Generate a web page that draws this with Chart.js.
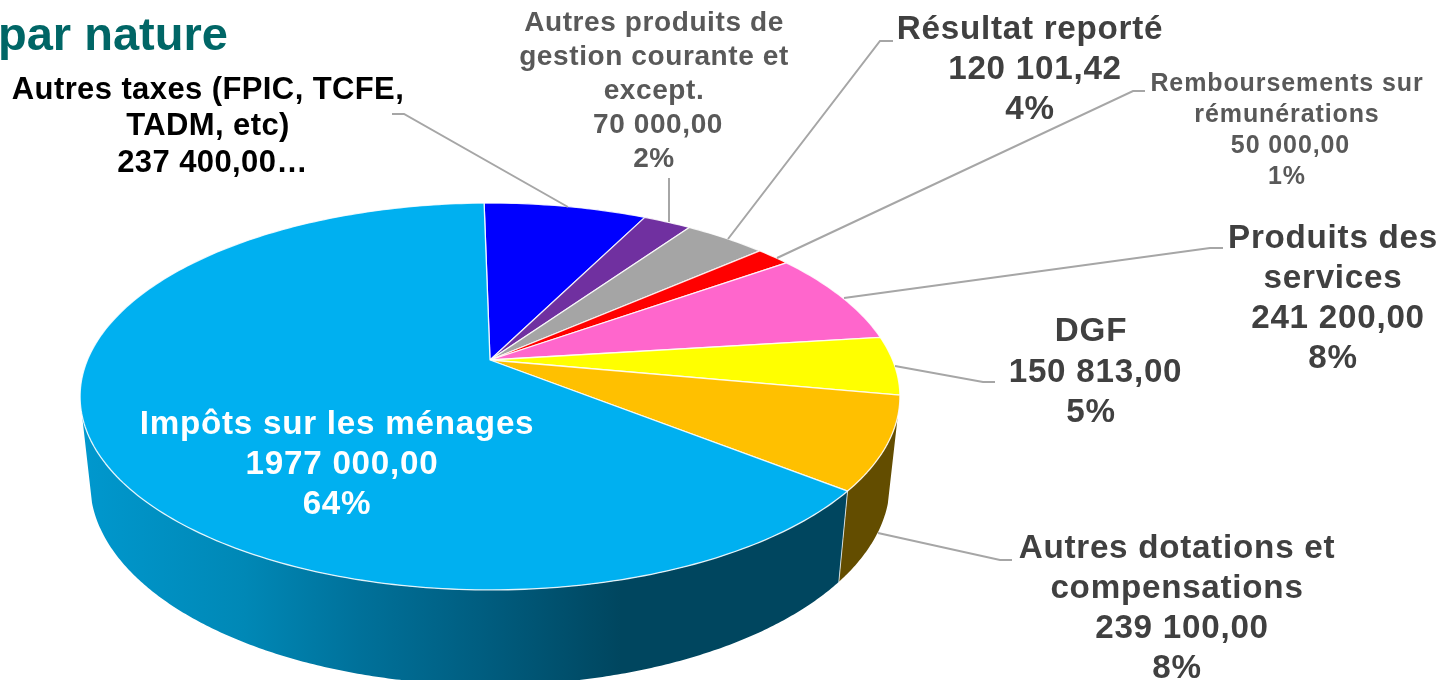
<!DOCTYPE html>
<html><head><meta charset="utf-8">
<style>html,body{margin:0;padding:0;background:#fff;overflow:hidden}canvas{display:block}</style>
<script src="https://cdn.jsdelivr.net/npm/chart.js@4"></script>
</head><body><canvas id="c" width="1454" height="680"></canvas>
<script>
const categories = ["Autres taxes (FPIC, TCFE, TADM, etc)","Autres produits de gestion courante et except.","Résultat reporté","Remboursements sur rémunérations","Produits des services","DGF","Autres dotations et compensations","Impôts sur les ménages"];
const values = [237400,70000,120101.42,50000,241200,150813,239100,1977000];
const sliceColors = ["#0000FF","#7030A0","#A5A5A5","#FF0000","#FF66CC","#FFFF00","#FFC000","#00B0F0"];

const titleText = "par nature";
const labelLines = [
 ["Autres taxes (FPIC, TCFE,","TADM, etc)","237 400,00…"],
 ["Autres produits de","gestion courante et","except.","70 000,00","2%"],
 ["Résultat reporté","120 101,42","4%"],
 ["Remboursements sur","rémunérations","50 000,00","1%"],
 ["Produits des","services","241 200,00","8%"],
 ["DGF","150 813,00","5%"],
 ["Autres dotations et","compensations","239 100,00","8%"],
 ["Impôts sur les ménages","1977 000,00","64%"]
];
// label placement: centre x, first line centre y, line step, font size, letter spacing, colour,
// plus the line that holds the amount and how far that line sits from the block's centre
const labelStyle = [
 {x:208,y:90,step:36.5,size:31,ls:0.4,color:"#000000",amountLine:2,amountDx:4.5},
 {x:654,y:23,step:34,size:28,ls:0.6,color:"#595959",amountLine:3,amountDx:4},
 {x:1030,y:30,step:40,size:33.2,ls:0.75,color:"#404040",amountLine:1,amountDx:5},
 {x:1287,y:84,step:31,size:25,ls:0.9,color:"#595959",amountLine:2,amountDx:3.5},
 {x:1333,y:239,step:40,size:33.2,ls:0.75,color:"#404040",amountLine:2,amountDx:5},
 {x:1091,y:332,step:40.5,size:33.2,ls:0.75,color:"#404040",amountLine:1,amountDx:4.5},
 {x:1177,y:549,step:40,size:33.2,ls:0.75,color:"#404040",amountLine:2,amountDx:5},
 {x:337,y:425,step:40,size:33.2,ls:0.75,color:"#FFFFFF",amountLine:1,amountDx:5}
];
const leaders = [
 [[392,114],[404,114],[568,207]],
 [[669,178],[669,222]],
 [[893,41],[880,41],[728,239]],
 [[1145,91],[1133,91],[777,258]],
 [[1223,248],[1210,248],[844,298]],
 [[995,382],[983,382],[895,366]],
 [[1012,560],[1000,560],[878,533]]
];

// Perspective projection of the pie disc
const K=-0.1886, A=1.258, B=0.583, DEPTH_SX=0.9756, DEPTH_SY=1.044, DEPTH_DY=85, V_MIN=0.28;
function topPt(el,t){const u=Math.cos(t),v=Math.sin(t),w=1+K*v,R=el.outerRadius;
  return [A*R*u/w, B*R*v/w];}
function rimTop(el,t){const p=topPt(el,t);return [el.x+p[0],el.y+p[1]];}
function rimBottom(el,t){const p=topPt(el,t);return [el.x+p[0]*DEPTH_SX,el.y+p[1]*DEPTH_SY+DEPTH_DY];}

const Arc = Chart.ArcElement;
Arc.prototype.draw = function(ctx){
  const n=Math.max(2,Math.ceil((this.endAngle-this.startAngle)*60));
  ctx.save();ctx.beginPath();ctx.moveTo(this.x,this.y);
  for(let i=0;i<=n;i++){const t=this.startAngle+(this.endAngle-this.startAngle)*i/n;const p=rimTop(this,t);ctx.lineTo(p[0],p[1]);}
  ctx.closePath();
  ctx.fillStyle=this.options.backgroundColor;ctx.fill();
  ctx.strokeStyle="rgba(255,255,255,0.85)";ctx.lineWidth=1.3;ctx.lineJoin="round";ctx.stroke();
  ctx.restore();
};

function wallFill(ctx,color){
  if(color==="#00B0F0"){
    const g=ctx.createLinearGradient(80,0,900,0);
    g.addColorStop(0,"#0098CE");g.addColorStop(0.2,"#0088B6");g.addColorStop(0.34,"#00719A");
    g.addColorStop(0.5,"#005C7E");g.addColorStop(0.66,"#00465F");g.addColorStop(1,"#00465F");
    return g;
  }
  return "#634D00";
}
const wallPlugin={id:"wall",beforeDatasetsDraw(chart){
  const ctx=chart.ctx,meta=chart.getDatasetMeta(0);
  meta.data.forEach((el,i)=>{
    const ts=[],n=Math.ceil((el.endAngle-el.startAngle)*120);
    for(let k=0;k<=n;k++){const t=el.startAngle+(el.endAngle-el.startAngle)*k/n;if(Math.sin(t)>=V_MIN)ts.push(t);}
    if(ts.length<2)return;
    ctx.save();ctx.beginPath();
    ts.forEach((t,k)=>{const p=rimTop(el,t);k?ctx.lineTo(p[0],p[1]):ctx.moveTo(p[0],p[1]);});
    ts.slice().reverse().forEach(t=>{const p=rimBottom(el,t);ctx.lineTo(p[0],p[1]);});
    ctx.closePath();ctx.fillStyle=wallFill(ctx,sliceColors[i]);ctx.fill();
    if(Math.sin(el.startAngle)>=V_MIN){const a=rimTop(el,el.startAngle),b=rimBottom(el,el.startAngle);
      ctx.beginPath();ctx.moveTo(a[0],a[1]);ctx.lineTo(b[0],b[1]);ctx.strokeStyle="rgba(255,255,255,0.75)";ctx.lineWidth=1;ctx.stroke();}
    ctx.restore();
  });
}};
const textPlugin={id:"texts",afterDatasetsDraw(chart){
  const ctx=chart.ctx;ctx.save();
  ctx.strokeStyle="#A6A6A6";ctx.lineWidth=2;
  leaders.forEach(l=>{ctx.beginPath();l.forEach((p,k)=>k?ctx.lineTo(p[0],p[1]):ctx.moveTo(p[0],p[1]));ctx.stroke();});
  ctx.textAlign="center";ctx.textBaseline="middle";
  labelLines.forEach((lines,i)=>{const s=labelStyle[i];
    ctx.font='bold '+s.size+'px "Liberation Sans", Arial, sans-serif';ctx.letterSpacing=s.ls+'px';ctx.fillStyle=s.color;
    lines.forEach((t,k)=>ctx.fillText(t,s.x+(k===s.amountLine?s.amountDx:0),s.y+k*s.step));});
  ctx.textAlign="left";ctx.font='bold 47px "Liberation Sans", Arial, sans-serif';ctx.letterSpacing='0px';ctx.fillStyle="#006666";
  ctx.fillText(titleText,-2,37);
  ctx.restore();
}};

new Chart(document.getElementById("c"),{
  type:"pie",
  data:{labels:categories,datasets:[{data:values,backgroundColor:sliceColors,borderWidth:0}]},
  options:{responsive:false,animation:false,rotation:-1,
    layout:{padding:{left:170,right:644,top:40,bottom:0}},
    plugins:{legend:{display:false},tooltip:{enabled:false},title:{display:false}},events:[]},
  plugins:[wallPlugin,textPlugin]
});
</script></body></html>
